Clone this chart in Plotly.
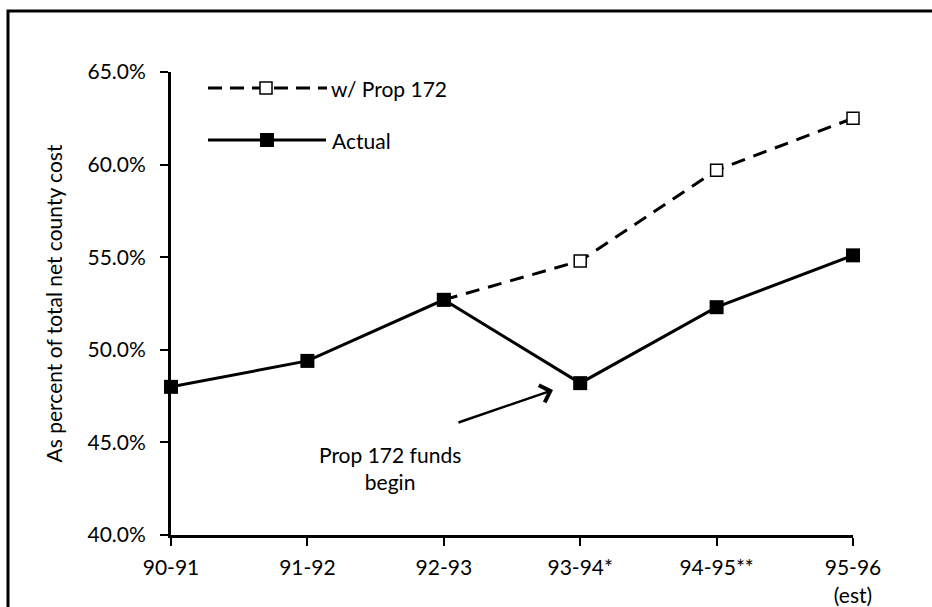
import plotly.graph_objects as go

# ---------------- data ----------------
categories = ["90-91", "91-92", "92-93", "93-94*", "94-95**", "95-96"]
tick_labels = ["90-91", "91-92", "92-93", "93-94*", "94-95**", "95-96<br>(est)"]
actual = [48.0, 49.4, 52.7, 48.2, 52.3, 55.1]
with_prop172 = [None, None, 52.7, 54.8, 59.7, 62.5]
y_ticks = [40, 45, 50, 55, 60, 65]
y_tick_labels = [f"{v:.1f}%" for v in y_ticks]

# ---------------- layout geometry (pixels) ----------------
W, H = 932, 607
L, R, T, B = 171, 853, 72, 535
FONT = "Lato"
FS = 21

fig = go.Figure()

# main series
fig.add_trace(go.Scatter(
    x=categories, y=with_prop172, mode="lines+markers", name="w/ Prop 172",
    line=dict(color="black", width=3, dash="14px,9px"),
    marker=dict(symbol="square", size=12, color="white",
                line=dict(color="black", width=1.5)),
    connectgaps=False, showlegend=False, cliponaxis=False))
fig.add_trace(go.Scatter(
    x=categories, y=actual, mode="lines+markers", name="Actual",
    line=dict(color="black", width=3),
    marker=dict(symbol="square", size=14, color="black"),
    showlegend=False, cliponaxis=False))

# hand-drawn legend keys on a pixel helper axis (x3/y3)
leg_dash_x, leg_dash_y = [208, 327], [88, 88]
leg_solid_x, leg_solid_y = [208, 326], [140, 140]
fig.add_trace(go.Scatter(x=leg_dash_x, y=leg_dash_y, xaxis="x3", yaxis="y3",
                         mode="lines", line=dict(color="black", width=3, dash="14px,8px"),
                         showlegend=False, hoverinfo="skip"))
fig.add_trace(go.Scatter(x=[266], y=[88], xaxis="x3", yaxis="y3", mode="markers",
                         marker=dict(symbol="square", size=12, color="white",
                                     line=dict(color="black", width=1.5)),
                         showlegend=False, hoverinfo="skip"))
fig.add_trace(go.Scatter(x=leg_solid_x, y=leg_solid_y, xaxis="x3", yaxis="y3",
                         mode="lines", line=dict(color="black", width=3),
                         showlegend=False, hoverinfo="skip"))
fig.add_trace(go.Scatter(x=[267], y=[140], xaxis="x3", yaxis="y3", mode="markers",
                         marker=dict(symbol="square", size=14, color="black"),
                         showlegend=False, hoverinfo="skip"))

axis_common = dict(showgrid=False, zeroline=False, linecolor="black", automargin=False,
                   tickcolor="black", tickfont=dict(family=FONT, size=FS, color="black"))

fig.update_layout(
    width=W, height=H,
    margin=dict(l=L, r=W - R, t=T, b=H - B, pad=0, autoexpand=False),
    paper_bgcolor="white", plot_bgcolor="white",
    font=dict(family=FONT, size=FS, color="black"),
    xaxis=dict(type="category", categoryorder="array", categoryarray=categories,
               range=[0, len(categories) - 1], tickvals=categories, ticktext=tick_labels,
               ticks="outside", ticklen=8, tickwidth=2, showline=True, linewidth=3,
               ticklabelstandoff=4, **axis_common),
    yaxis=dict(range=[y_ticks[0], y_ticks[-1]], tickvals=y_ticks, ticktext=y_tick_labels,
               ticks="outside", ticklen=8, tickwidth=2, showline=True, linewidth=3,
               ticklabelstandoff=10,
               title=dict(text="As percent of total net county cost",
                          font=dict(family=FONT, size=FS), standoff=20),
               **axis_common),
    # inside halves of the cross ticks
    xaxis2=dict(overlaying="x", anchor="y", range=[0, len(categories) - 1],
                tickvals=list(range(len(categories))), ticks="inside", ticklen=7,
                tickwidth=2, tickcolor="black", showticklabels=False, automargin=False,
                showline=False, showgrid=False, zeroline=False),
    yaxis2=dict(overlaying="y", anchor="x", range=[y_ticks[0], y_ticks[-1]],
                tickvals=y_ticks, ticks="inside", ticklen=7, tickwidth=2,
                tickcolor="black", showticklabels=False, automargin=False,
                showline=False, showgrid=False, zeroline=False),
    # pixel helper axes for the legend
    xaxis3=dict(overlaying="x", anchor="y3", range=[L, R], visible=False, automargin=False),
    yaxis3=dict(overlaying="y", anchor="x3", range=[B, T], visible=False, automargin=False),
)

# legend labels
fig.add_annotation(x=329, y=88, xref="x3", yref="y3", text="w/ Prop 172",
                   showarrow=False, xanchor="left", yanchor="middle",
                   font=dict(family=FONT, size=FS))
fig.add_annotation(x=330, y=140, xref="x3", yref="y3", text="Actual",
                   showarrow=False, xanchor="left", yanchor="middle",
                   font=dict(family=FONT, size=FS))

# callout
fig.add_annotation(x=390, y=468, xref="x3", yref="y3",
                   text="Prop 172 funds<br>begin", showarrow=False,
                   font=dict(family=FONT, size=FS), align="center")
fig.add_annotation(x=553, y=390, xref="x3", yref="y3", text="",
                   showarrow=True, axref="pixel", ayref="pixel", ax=-96, ay=33,
                   arrowhead=4, arrowsize=1.4, arrowwidth=2.5, arrowcolor="black")

# outer frame (extends beyond right and bottom edges)
fig.add_shape(type="rect", xref="paper", yref="paper",
              x0=(8 - L) / (R - L), x1=(W + 20 - L) / (R - L),
              y0=(B - (H + 20)) / (B - T), y1=(B - 11) / (B - T),
              line=dict(color="black", width=3), fillcolor="rgba(0,0,0,0)")

fig.write_html("out.html")
